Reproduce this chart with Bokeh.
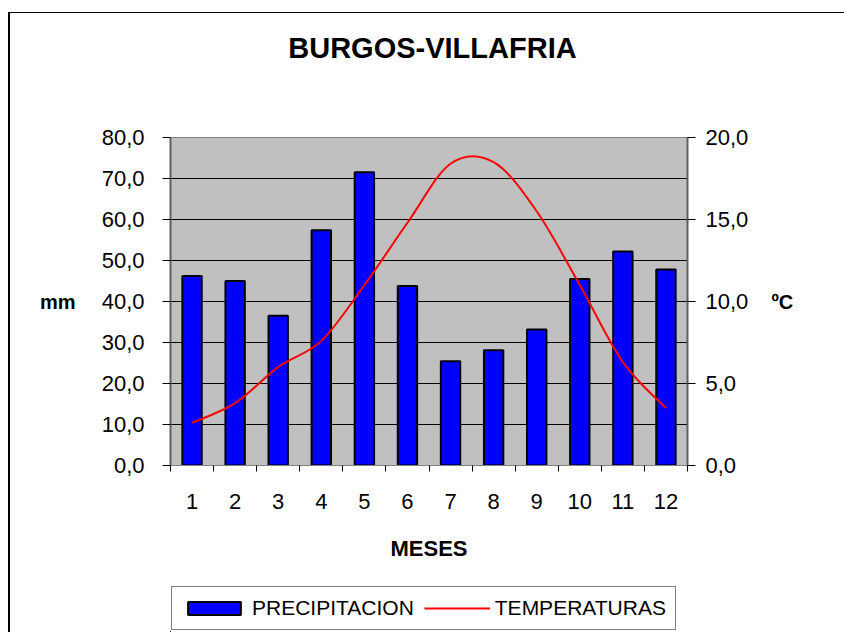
from bokeh.plotting import figure
from bokeh.layouts import column
from bokeh.models import (Range1d, LinearAxis, FixedTicker, CustomJSTickFormatter,
                          Legend, LegendItem, Label)
from bokeh.embed import file_html
from bokeh.resources import INLINE

# ---- data ----
months = [1, 2, 3, 4, 5, 6, 7, 8, 9, 10, 11, 12]
precipitacion = [46.2, 45.0, 36.5, 57.4, 71.5, 43.8, 25.4, 28.1, 33.2, 45.5, 52.2, 47.8]
temperaturas = [2.6, 3.8, 6.0, 7.6, 11.0, 14.8, 18.4, 18.5, 15.5, 11.0, 6.3, 3.5]
mm_ticks = [0, 10, 20, 30, 40, 50, 60, 70, 80]
c_ticks = [0, 5, 10, 15, 20]
title_text = "BURGOS-VILLAFRIA"
left_label = "mm"
right_label = "ºC"
x_label = "MESES"
series_names = ["PRECIPITACION", "TEMPERATURAS"]

FONT = "Liberation Sans"
TICK_SIZE = "22px"
W = 834
H_TOP, H_MAIN, H_LEG = 87, 475, 57
X_RANGE = (0.5, 12.5)
BAR_STYLE = dict(fill_color="#0000FF", line_color="black", line_width=2)
LINE_STYLE = dict(line_color="#FF0000", line_width=2)


def blank_strip(height, x_range, y_range):
    f = figure(width=W, height=height, output_backend="svg", toolbar_location=None,
               x_range=Range1d(*x_range), y_range=Range1d(*y_range),
               x_axis_location=None, y_axis_location=None, min_border=0)
    f.grid.visible = False
    f.outline_line_color = None
    f.background_fill_color = "white"
    f.border_fill_color = "white"
    return f


# ---- title strip ----
p0 = blank_strip(H_TOP, X_RANGE, (0, H_TOP))
p0.add_layout(Label(x=6.58, y=53, text=title_text, text_align="center",
                    text_baseline="middle", text_font=FONT, text_font_size="29px",
                    text_font_style="bold", text_color="black"))

# ---- main chart ----
p = figure(width=W, height=H_MAIN, output_backend="svg", toolbar_location=None,
           x_range=Range1d(*X_RANGE), y_range=Range1d(0, 80),
           min_border_left=160, min_border_right=157,
           min_border_top=37, min_border_bottom=110)
p.extra_y_ranges = {"temp": Range1d(0, 20)}
p.background_fill_color = "#C0C0C0"
p.border_fill_color = "white"
p.outline_line_color = "#808080"
p.outline_line_width = 1

fmt = CustomJSTickFormatter(code="return tick.toFixed(1).replace('.', ',');")

bars = p.vbar(x=months, top=precipitacion, width=0.45, **BAR_STYLE)

# smooth temperature curve (bezier segments through the monthly points)
n = len(months)
x0 = []; y0 = []; x1 = []; y1 = []; cx0 = []; cy0 = []; cx1 = []; cy1 = []
for i in range(n - 1):
    a = max(i - 1, 0); b = i; c = i + 1; d = min(i + 2, n - 1)
    x0.append(months[b]); y0.append(temperaturas[b])
    x1.append(months[c]); y1.append(temperaturas[c])
    cx0.append(months[b] + (months[c] - months[a]) / 6.0)
    cy0.append(temperaturas[b] + (temperaturas[c] - temperaturas[a]) / 6.0)
    cx1.append(months[c] - (months[d] - months[b]) / 6.0)
    cy1.append(temperaturas[c] - (temperaturas[d] - temperaturas[b]) / 6.0)
p.bezier(x0=x0, y0=y0, x1=x1, y1=y1, cx0=cx0, cy0=cy0, cx1=cx1, cy1=cy1,
         y_range_name="temp", **LINE_STYLE)

# x axis
p.xaxis.ticker = FixedTicker(ticks=months,
                             minor_ticks=[m - 0.5 for m in months] + [months[-1] + 0.5])
p.xaxis.major_tick_out = 0
p.xaxis.major_tick_in = 0
p.xaxis.minor_tick_out = 6
p.xaxis.minor_tick_in = 0
p.xaxis.minor_tick_line_color = "black"
p.xaxis.axis_line_color = "#808080"
p.xaxis.axis_line_width = 1
p.xaxis.major_label_standoff = 22
p.xaxis.major_label_text_font = FONT
p.xaxis.major_label_text_font_size = TICK_SIZE
p.xaxis.major_label_text_color = "black"
p.xaxis.axis_label = x_label
p.xaxis.axis_label_standoff = 24
p.xaxis.axis_label_text_font = FONT
p.xaxis.axis_label_text_font_size = "22px"
p.xaxis.axis_label_text_font_style = "bold"
p.xaxis.axis_label_text_color = "black"

# left axis
p.yaxis.ticker = FixedTicker(ticks=mm_ticks, minor_ticks=[])
p.yaxis.formatter = fmt
p.yaxis.major_tick_out = 8
p.yaxis.major_tick_in = 0
p.yaxis.major_tick_line_color = "black"
p.yaxis.axis_line_color = "#606060"
p.yaxis.axis_line_width = 2
p.yaxis.major_label_standoff = 18
p.yaxis.major_label_text_font = FONT
p.yaxis.major_label_text_font_size = TICK_SIZE
p.yaxis.major_label_text_color = "black"

# right axis
raxis = LinearAxis(y_range_name="temp", ticker=FixedTicker(ticks=c_ticks, minor_ticks=[]),
                   formatter=fmt)
raxis.major_tick_out = 8
raxis.major_tick_in = 0
raxis.major_tick_line_color = "black"
raxis.axis_line_color = "#606060"
raxis.axis_line_width = 2
raxis.major_label_standoff = 10
raxis.major_label_text_font = FONT
raxis.major_label_text_font_size = TICK_SIZE
raxis.major_label_text_color = "black"
p.add_layout(raxis, "right")


# unit labels, drawn as single-tick axes beside the value axes
def unit_axis(text, tick, range_name, standoff):
    ax = LinearAxis(ticker=FixedTicker(ticks=[tick], minor_ticks=[]),
                    formatter=CustomJSTickFormatter(args=dict(t=text), code="return t;"))
    if range_name is not None:
        ax.y_range_name = range_name
    ax.axis_line_color = None
    ax.major_tick_line_color = None
    ax.minor_tick_line_color = None
    ax.major_tick_out = 0
    ax.major_tick_in = 0
    ax.major_label_standoff = standoff
    ax.major_label_text_font = FONT
    ax.major_label_text_font_size = "20px"
    ax.major_label_text_font_style = "bold"
    ax.major_label_text_color = "black"
    return ax


p.add_layout(unit_axis(left_label, 40, None, 23), "left")
p.add_layout(unit_axis(right_label, 10, "temp", 20), "right")

p.xgrid.visible = False
p.ygrid.ticker = FixedTicker(ticks=mm_ticks)
p.ygrid.grid_line_color = "black"
p.ygrid.grid_line_width = 1

# ---- legend strip (proxy renderers lie far outside this strip's view) ----
p2 = blank_strip(H_LEG, (1000, 1012), (1000, 1010))
leg_bar = p2.vbar(x=months, top=precipitacion, width=0.45, **BAR_STYLE)
leg_line = p2.line(x=months, y=temperaturas, **LINE_STYLE)
legend = Legend(items=[LegendItem(label=series_names[0], renderers=[leg_bar]),
                       LegendItem(label=series_names[1], renderers=[leg_line])],
                orientation="horizontal", location=(1, 2), margin=0,
                glyph_width=66, glyph_height=16, padding=9, spacing=10,
                label_standoff=5, label_text_font=FONT, label_text_font_size="21px",
                label_text_baseline="middle", label_text_color="black",
                border_line_color="black", border_line_width=1,
                background_fill_color="white", background_fill_alpha=1.0)
p2.add_layout(legend, "center")

layout = column(p0, p, p2, spacing=0)
layout.styles = {"margin-left": "8px", "margin-top": "12px",
                 "border-top": "1px solid black", "border-left": "2px solid black"}

open("out.html", "w").write(file_html(layout, INLINE))
